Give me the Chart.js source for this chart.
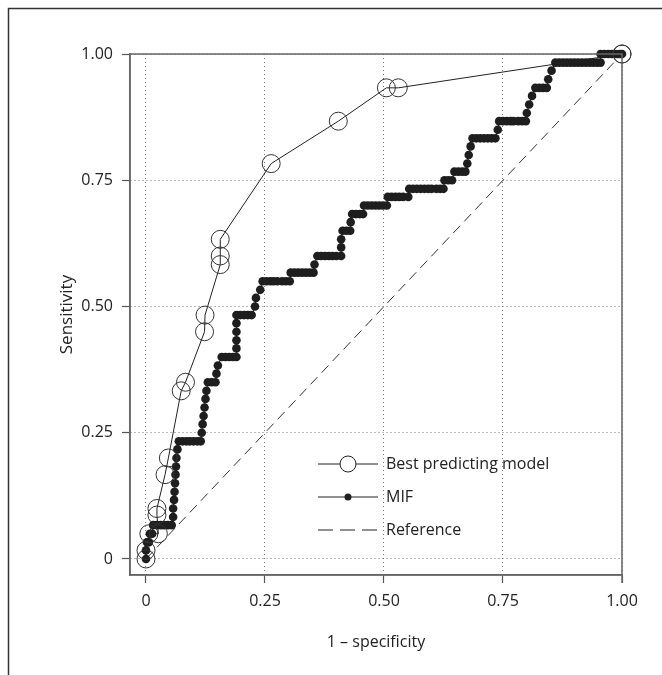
<!DOCTYPE html>
<html>
<head>
<meta charset="utf-8">
<script src="https://cdn.jsdelivr.net/npm/chart.js@4"></script>
<style>
  html, body { margin: 0; padding: 0; background: #fff; }
  #wrap { position: relative; width: 662px; height: 675px; }
</style>
</head>
<body>
<div id="wrap"><canvas id="roc" width="662" height="675"></canvas></div>
<script>
// axis ticks
const tickValues = [0, 0.25, 0.5, 0.75, 1];
const xTickLabels = ['0', '0.25', '0.50', '0.75', '1.00'];
const yTickLabels = ['0', '0.25', '0.50', '0.75', '1.00'];

// best predicting model (open circles)
const bestX = [0, 0, 0.006, 0.026, 0.023, 0.023, 0.04, 0.047, 0.074, 0.083, 0.123, 0.124, 0.156, 0.156, 0.156, 0.263, 0.404, 0.505, 0.53, 1, 1];
const bestY = [0, 0.017, 0.05, 0.05, 0.087, 0.1, 0.167, 0.2, 0.333, 0.35, 0.45, 0.483, 0.583, 0.6, 0.633, 0.783, 0.867, 0.933, 0.933, 1, 1];

// MIF (filled dots)
const mifX = [0, 0, 0.002, 0.006, 0.008, 0.013, 0.015, 0.023, 0.031, 0.038, 0.046, 0.054,
  0.057, 0.057, 0.059, 0.06, 0.061, 0.062, 0.063, 0.064, 0.066,
  0.069, 0.077, 0.085, 0.092, 0.1, 0.108, 0.115,
  0.117, 0.119, 0.121, 0.123, 0.125, 0.127,
  0.13, 0.138, 0.146, 0.148, 0.151,
  0.159, 0.167, 0.175, 0.183, 0.19, 0.19, 0.19, 0.19, 0.19,
  0.19, 0.198, 0.206, 0.214, 0.222, 0.229, 0.231, 0.24,
  0.245, 0.253, 0.261, 0.268, 0.276, 0.286, 0.294, 0.302,
  0.304, 0.312, 0.32, 0.328, 0.336, 0.344, 0.352, 0.354,
  0.36, 0.368, 0.376, 0.384, 0.392, 0.4, 0.41, 0.41, 0.41,
  0.413, 0.421, 0.429, 0.43,
  0.433, 0.441, 0.449, 0.456,
  0.458, 0.466, 0.474, 0.482, 0.49, 0.498, 0.506,
  0.508, 0.516, 0.524, 0.532, 0.54, 0.551,
  0.553, 0.561, 0.569, 0.577, 0.585, 0.593, 0.6, 0.61, 0.618, 0.625,
  0.627, 0.635, 0.643,
  0.648, 0.656, 0.664, 0.671, 0.675, 0.678, 0.682,
  0.686, 0.694, 0.702, 0.71, 0.718, 0.726, 0.734, 0.739,
  0.742, 0.75, 0.758, 0.766, 0.772, 0.782, 0.79, 0.798, 0.8, 0.805, 0.811,
  0.818, 0.826, 0.834, 0.842, 0.845, 0.852,
  0.86, 0.868, 0.876, 0.884, 0.892, 0.9, 0.908, 0.916, 0.924, 0.932, 0.94, 0.948, 0.955,
  0.955, 0.963, 0.971, 0.979, 0.987, 0.995, 1];
const mifY = [0, 0.017, 0.033, 0.033, 0.05, 0.05, 0.067, 0.067, 0.067, 0.067, 0.067, 0.067,
  0.083, 0.1, 0.117, 0.133, 0.15, 0.167, 0.183, 0.2, 0.217,
  0.233, 0.233, 0.233, 0.233, 0.233, 0.233, 0.233,
  0.25, 0.267, 0.283, 0.3, 0.317, 0.333,
  0.35, 0.35, 0.35, 0.367, 0.383,
  0.4, 0.4, 0.4, 0.4, 0.4, 0.417, 0.433, 0.45, 0.467,
  0.483, 0.483, 0.483, 0.483, 0.483, 0.5, 0.517, 0.533,
  0.55, 0.55, 0.55, 0.55, 0.55, 0.55, 0.55, 0.55,
  0.567, 0.567, 0.567, 0.567, 0.567, 0.567, 0.567, 0.583,
  0.6, 0.6, 0.6, 0.6, 0.6, 0.6, 0.6, 0.617, 0.633,
  0.65, 0.65, 0.65, 0.667,
  0.683, 0.683, 0.683, 0.683,
  0.7, 0.7, 0.7, 0.7, 0.7, 0.7, 0.7,
  0.717, 0.717, 0.717, 0.717, 0.717, 0.717,
  0.733, 0.733, 0.733, 0.733, 0.733, 0.733, 0.733, 0.733, 0.733, 0.733,
  0.75, 0.75, 0.75,
  0.767, 0.767, 0.767, 0.767, 0.783, 0.8, 0.817,
  0.833, 0.833, 0.833, 0.833, 0.833, 0.833, 0.833, 0.85,
  0.867, 0.867, 0.867, 0.867, 0.867, 0.867, 0.867, 0.867, 0.883, 0.9, 0.917,
  0.933, 0.933, 0.933, 0.933, 0.95, 0.967,
  0.983, 0.983, 0.983, 0.983, 0.983, 0.983, 0.983, 0.983, 0.983, 0.983, 0.983, 0.983, 0.983,
  1, 1, 1, 1, 1, 1, 1];

// reference diagonal
const refX = [0, 1];
const refY = [0, 1];

const FONT = '"Open Sans", sans-serif';
const toPts = (xs, ys) => xs.map((x, i) => ({ x: x, y: ys[i] }));

// outer frame and plot box
const framePlugin = {
  id: 'frame',
  beforeDraw(chart) {
    const ctx = chart.ctx;
    ctx.save();
    ctx.strokeStyle = '#333';
    ctx.lineWidth = 1.5;
    ctx.beginPath();
    ctx.moveTo(8.5, 675);
    ctx.lineTo(8.5, 8.5);
    ctx.lineTo(662, 8.5);
    ctx.stroke();
    ctx.restore();
  },
  afterDatasetsDraw(chart) {
    const { ctx, chartArea: a } = chart;
    ctx.save();
    ctx.strokeStyle = '#666';
    ctx.lineWidth = 1.5;
    ctx.setLineDash([]);
    ctx.beginPath();
    ctx.moveTo(a.left, a.top);
    ctx.lineTo(a.right, a.top);
    ctx.lineTo(a.right, a.bottom + 8);
    ctx.moveTo(a.left, a.top);
    ctx.lineTo(a.left, a.bottom);
    ctx.lineTo(a.right, a.bottom);
    ctx.stroke();
    ctx.restore();
  }
};

// legend inside the plot
const legendPlugin = {
  id: 'insideLegend',
  afterDraw(chart) {
    const ctx = chart.ctx;
    const x0 = 318, x1 = 378, tx = 386;
    const rows = [464, 497, 530];
    ctx.save();
    ctx.strokeStyle = '#222';
    ctx.fillStyle = '#222';
    ctx.lineWidth = 1;
    rows.forEach((y, i) => {
      ctx.beginPath();
      ctx.setLineDash(i === 2 ? [15, 7] : []);
      ctx.moveTo(x0, y);
      ctx.lineTo(x1, y);
      ctx.stroke();
      ctx.setLineDash([]);
      if (i === 0) {
        ctx.fillStyle = '#fff';
        ctx.beginPath();
        ctx.arc(348, y, 8, 0, Math.PI * 2);
        ctx.fill();
        ctx.stroke();
        ctx.fillStyle = '#222';
      } else if (i === 1) {
        ctx.beginPath();
        ctx.arc(348, y, 3.5, 0, Math.PI * 2);
        ctx.fill();
      }
    });
    ctx.font = '16px ' + FONT;
    ctx.textBaseline = 'middle';
    ctx.fillStyle = '#222';
    const labels = chart.data.datasets.map(d => d.label);
    labels.forEach((t, i) => ctx.fillText(t, tx, rows[i]));
    ctx.restore();
  }
};

const gridOpts = {
  color: '#777',
  lineWidth: 1,
  drawTicks: true,
  tickLength: 8,
  tickColor: '#555',
  tickWidth: 1.2,
  tickBorderDash: []
};
const borderOpts = { color: '#666', width: 1.5, dash: [1, 3] };

new Chart(document.getElementById('roc').getContext('2d'), {
  type: 'scatter',
  data: {
    datasets: [
      {
        label: 'Best predicting model',
        data: toPts(bestX, bestY),
        showLine: true,
        borderColor: '#222',
        borderWidth: 1,
        pointRadius: 9,
        pointBorderWidth: 1,
        pointBorderColor: '#333',
        pointBackgroundColor: 'rgba(255,255,255,0)',
        clip: false
      },
      {
        label: 'MIF',
        data: toPts(mifX, mifY),
        showLine: true,
        borderColor: '#222',
        borderWidth: 1,
        pointRadius: 4.3,
        pointBorderWidth: 0,
        pointBackgroundColor: '#1e1e1e',
        clip: false
      },
      {
        label: 'Reference',
        data: toPts(refX, refY),
        showLine: true,
        borderColor: '#333',
        borderWidth: 1,
        borderDash: [10, 6],
        pointRadius: 0
      }
    ]
  },
  options: {
    responsive: false,
    animation: false,
    events: [],
    layout: { padding: { left: 0, top: 54, right: 40, bottom: 0 } },
    plugins: { legend: { display: false }, tooltip: { enabled: false } },
    scales: {
      x: {
        type: 'linear',
        min: -0.0336,
        max: 1,
        afterFit: s => { s.height = 100; },
        afterBuildTicks: s => { s.ticks = tickValues.map(v => ({ value: v })); },
        grid: gridOpts,
        border: borderOpts,
        ticks: {
          color: '#222',
          font: { family: FONT, size: 16 },
          padding: 9,
          maxRotation: 0,
          callback: (v) => xTickLabels[tickValues.indexOf(v)]
        },
        title: {
          display: true,
          text: '1 – specificity',
          color: '#222',
          font: { family: FONT, size: 16 },
          padding: { top: 0, bottom: 23 }
        }
      },
      y: {
        type: 'linear',
        min: -0.0317,
        max: 1,
        afterFit: s => { s.width = 130; },
        afterBuildTicks: s => { s.ticks = tickValues.map(v => ({ value: v })); },
        grid: gridOpts,
        border: borderOpts,
        ticks: {
          color: '#222',
          font: { family: FONT, size: 16 },
          padding: 9,
          callback: (v) => yTickLabels[tickValues.indexOf(v)]
        },
        title: {
          display: true,
          text: 'Sensitivity',
          color: '#222',
          font: { family: FONT, size: 17 },
          padding: { top: 57, bottom: 0 }
        }
      }
    }
  },
  plugins: [framePlugin, legendPlugin]
});
</script>
</body>
</html>
